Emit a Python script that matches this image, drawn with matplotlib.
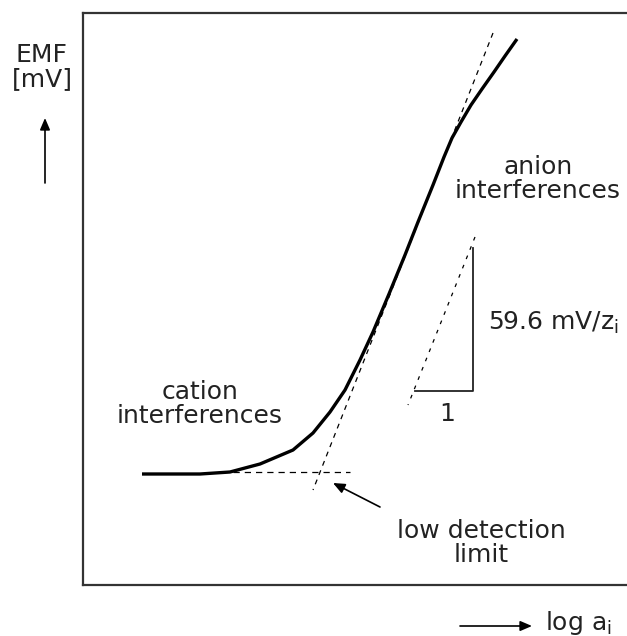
import matplotlib
matplotlib.use("Agg")
import matplotlib.pyplot as plt

plt.rcParams["font.family"] = ["DejaVu Sans"]
plt.rcParams["mathtext.fontset"] = "dejavusans"

# Coordinates (image pixels; y grows downward)
CURVE_X = [142, 200, 230, 260, 293, 313, 330, 345, 360, 373, 389, 405, 418, 433,
           444, 452, 461, 471, 482, 494, 505, 517]
CURVE_Y = [474, 474, 472, 464, 450, 433, 412, 390, 360, 332, 294, 255, 222, 185,
           157, 138, 122, 105, 89, 72, 56, 39]

TANGENT_X = [493, 313]          # Nernstian slope extrapolation
TANGENT_Y = [33, 490]
BASELINE_X = [233, 350]         # low-activity plateau extrapolation
BASELINE_Y = [472, 472]

TRI_HYP_X = [475, 408]          # slope triangle
TRI_HYP_Y = [237, 405]
TRI_LEG_X = [415, 473, 473]
TRI_LEG_Y = [391, 391, 248]

FS = 18
W, H = 627, 636
BOX_L, BOX_T, BOX_B = 83, 13, 585

fig = plt.figure(figsize=(W / 100, H / 100), dpi=100)
ax = fig.add_axes([BOX_L / W, (H - BOX_B) / H, (W - BOX_L) / W, (BOX_B - BOX_T) / H])
ax.set_xlim(BOX_L, W)
ax.set_ylim(BOX_B, BOX_T)
ax.set_xticks([])
ax.set_yticks([])
for side in ("left", "top", "bottom"):
    ax.spines[side].set_linewidth(1.6)
    ax.spines[side].set_color("#333333")
ax.spines["right"].set_visible(False)

ax.plot(CURVE_X, CURVE_Y, color="black", lw=2.4, solid_capstyle="butt",
        solid_joinstyle="round", zorder=3)
ax.plot(TANGENT_X, TANGENT_Y, color="black", lw=0.9, ls=(0, (4, 4)))
ax.plot(BASELINE_X, BASELINE_Y, color="black", lw=0.9, ls=(0, (5, 4)))
ax.plot(TRI_HYP_X, TRI_HYP_Y, color="black", lw=0.9, ls=(0, (3, 5)))
ax.plot(TRI_LEG_X, TRI_LEG_Y, color="#222222", lw=1.3)

txt = dict(fontsize=FS, color="#222222", ha="center", va="baseline",
           multialignment="center", linespacing=1.0)
ax.text(200, 423, "cation\ninterferences", **txt)
ax.text(538, 198, "anion\ninterferences", **txt)
ax.text(481, 562, "low detection\nlimit", **txt)
ax.text(447, 421, "1", **txt)
ax.text(488, 330, "59.6 mV/z$_\\mathrm{i}$", fontsize=FS, color="#222222",
        ha="left", va="baseline")
ax.text(42, 86, "EMF\n[mV]", **txt)
ax.text(545, 630, "log a$_\\mathrm{i}$", fontsize=FS, color="#222222",
        ha="left", va="baseline")

arrow = dict(arrowstyle="-|>,head_length=0.7,head_width=0.3", color="black",
             lw=1.2, shrinkA=0, shrinkB=0)
ax.annotate("", xy=(45, 118), xytext=(45, 183), arrowprops=arrow,
            annotation_clip=False)
ax.annotate("", xy=(532, 626), xytext=(460, 626), arrowprops=arrow,
            annotation_clip=False)
ax.annotate("", xy=(333, 483), xytext=(380, 507), arrowprops=arrow,
            annotation_clip=False)

fig.savefig("out.png", dpi=100)
